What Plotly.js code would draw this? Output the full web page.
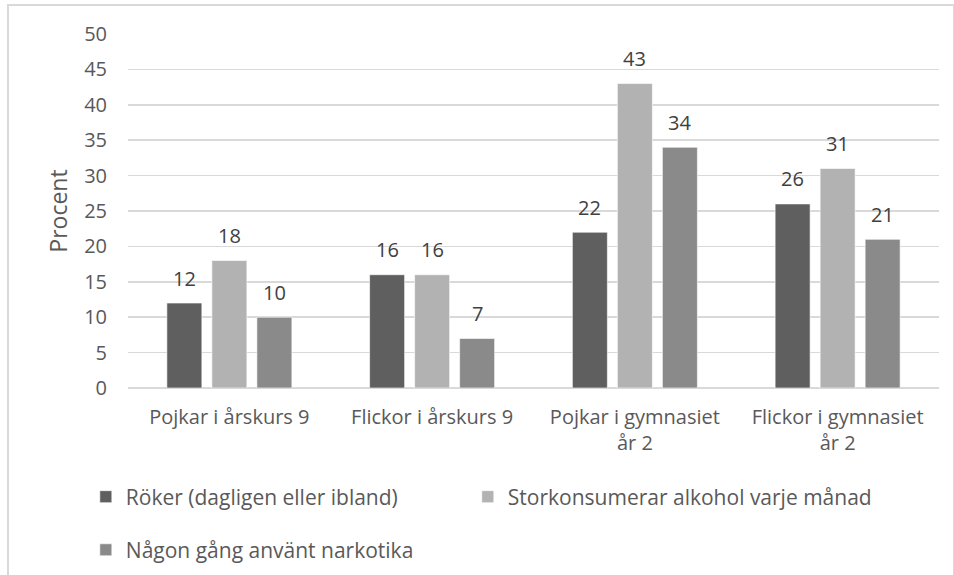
<!DOCTYPE html>
<html>
<head>
<meta charset="utf-8">
<script src="https://cdn.plot.ly/plotly-3.0.1.min.js"></script>
<style>
  html, body { margin: 0; padding: 0; background: #ffffff; }
  #frame { position: absolute; left: 7px; top: 4px; width: 944px; height: 580px;
           border-left: 2px solid #d9d9d9; border-top: 2px solid #d9d9d9; border-right: 2px solid #d9d9d9; }
  #chart { position: absolute; left: 0; top: 0; width: 954px; height: 575px; }
</style>
</head>
<body>
<div id="frame"></div>
<div id="chart"></div>
<script>
const categories = ['Pojkar i årskurs 9', 'Flickor i årskurs 9', 'Pojkar i gymnasiet<br>år 2', 'Flickor i gymnasiet<br>år 2'];
const seriesNames = ['Röker (dagligen eller ibland)', 'Storkonsumerar alkohol varje månad', 'Någon gång använt narkotika'];
const roker = [12, 16, 22, 26];
const alkohol = [18, 16, 43, 31];
const narkotika = [10, 7, 34, 21];
const yTicks = [0, 5, 10, 15, 20, 25, 30, 35, 40, 45, 50];

const seriesValues = [roker, alkohol, narkotika];
const colors = ['#5f5f5f', '#b2b2b2', '#8a8a8a'];
const legendIds = ['legend', 'legend2', 'legend3'];
const fontFamily = '"Open Sans", "Noto Sans", sans-serif';

const traces = seriesValues.map((vals, i) => ({
  type: 'bar',
  name: seriesNames[i],
  x: categories,
  y: vals,
  marker: { color: colors[i], line: { color: '#ffffff', width: 0.6 } },
  legend: legendIds[i],
  hoverinfo: 'none'
}));

const barSpacing = 45;
const annotations = [];
seriesValues.forEach((vals, i) => {
  vals.forEach((v, j) => {
    annotations.push({
      x: categories[j], y: v, xref: 'x', yref: 'y',
      text: String(v), showarrow: false,
      xshift: (i - 1) * barSpacing, yshift: 25, yanchor: 'middle',
      font: { family: fontFamily, size: 20, color: '#404040' }
    });
  });
});

const legendFont = { family: fontFamily, size: 21, color: '#595959' };
function legendAt(x, y) {
  return { orientation: 'h', x: x, xanchor: 'left', y: y, yanchor: 'middle',
           font: legendFont, bgcolor: 'rgba(0,0,0,0)' };
}

const layout = {
  width: 954, height: 575,
  margin: { l: 128, r: 15, t: 34, b: 187, autoexpand: false },
  paper_bgcolor: 'rgba(0,0,0,0)',
  plot_bgcolor: 'rgba(0,0,0,0)',
  barmode: 'group',
  bargap: 0.334,
  bargroupgap: 0.222,
  font: { family: fontFamily, color: '#595959' },
  xaxis: {
    type: 'category',
    tickfont: { family: fontFamily, size: 20, color: '#595959' },
    ticklabelstandoff: 15,
    showgrid: false, showline: false, ticks: ''
  },
  yaxis: {
    range: [0, 50],
    tickvals: yTicks,
    tickfont: { family: fontFamily, size: 20, color: '#595959' },
    ticklabelstandoff: 20,
    gridcolor: '#d9d9d9', gridwidth: 1.5,
    zeroline: true, zerolinecolor: '#d9d9d9', zerolinewidth: 1.5,
    showline: false, ticks: '',
    title: { text: 'Procent', font: { family: fontFamily, size: 23, color: '#595959' }, standoff: 10 }
  },
  showlegend: true,
  legend: legendAt(-0.052, -0.308),
  legend2: legendAt(0.419, -0.308),
  legend3: legendAt(-0.052, -0.458),
  annotations: annotations
};

Plotly.newPlot('chart', traces, layout, { displayModeBar: false, staticPlot: true });
</script>
</body>
</html>
